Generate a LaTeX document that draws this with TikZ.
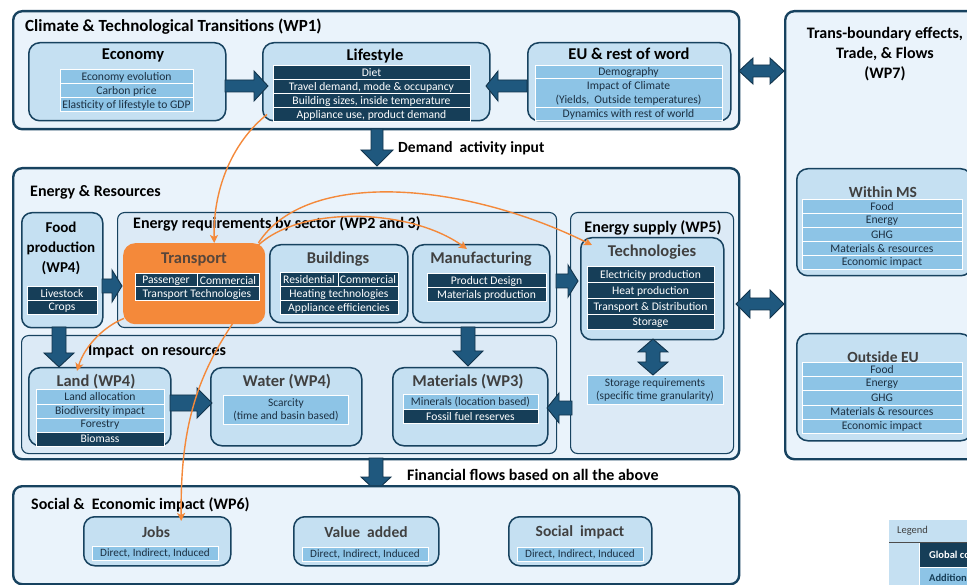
\documentclass[tikz,border=0pt]{standalone}
\usepackage{fontspec}
\setmainfont{Carlito}
\usetikzlibrary{arrows.meta}
\definecolor{navy}{RGB}{23,66,95}
\definecolor{darkitem}{RGB}{22,62,88}
\definecolor{ltitem}{RGB}{141,196,230}
\definecolor{subbg}{RGB}{197,224,242}
\definecolor{contbg}{RGB}{220,234,246}
\definecolor{panelbg}{RGB}{234,243,251}
\definecolor{orng}{RGB}{244,137,58}
\definecolor{arrfill}{RGB}{31,88,126}
\definecolor{arrline}{RGB}{18,52,76}
\definecolor{titlegray}{RGB}{64,64,64}
\definecolor{itemtext}{RGB}{28,48,66}
\definecolor{trtitle}{RGB}{88,70,58}
\newcommand\PTfont{\fontsize{16}{19}\selectfont\bfseries}
\newcommand\BTfont{\fontsize{16.5}{19}\selectfont\bfseries}
\newcommand\FTfont{\fontsize{15}{20}\selectfont\bfseries}
\newcommand\ITfont{\fontsize{11.6}{13.5}\selectfont}
\newcommand\SITfont{\fontsize{11.2}{12.5}\selectfont}
% block arrows
\newcommand\BArrowR[6]{\filldraw[barrowst] (#1,#3-#4) -- (#2-#6,#3-#4) -- (#2-#6,#3-#5) -- (#2,#3) -- (#2-#6,#3+#5) -- (#2-#6,#3+#4) -- (#1,#3+#4) -- cycle;}
\newcommand\BArrowL[6]{\filldraw[barrowst] (#1,#3-#4) -- (#2+#6,#3-#4) -- (#2+#6,#3-#5) -- (#2,#3) -- (#2+#6,#3+#5) -- (#2+#6,#3+#4) -- (#1,#3+#4) -- cycle;}
\newcommand\BArrowD[6]{\filldraw[barrowst] (#1-#4,#2) -- (#1-#4,#3-#6) -- (#1-#5,#3-#6) -- (#1,#3) -- (#1+#5,#3-#6) -- (#1+#4,#3-#6) -- (#1+#4,#2) -- cycle;}
\newcommand\DArrowH[6]{\filldraw[barrowst] (#1,#3) -- (#1+#6,#3-#5) -- (#1+#6,#3-#4) -- (#2-#6,#3-#4) -- (#2-#6,#3-#5) -- (#2,#3) -- (#2-#6,#3+#5) -- (#2-#6,#3+#4) -- (#1+#6,#3+#4) -- (#1+#6,#3+#5) -- cycle;}
\newcommand\DArrowV[6]{\filldraw[barrowst] (#1,#2) -- (#1+#5,#2+#6) -- (#1+#4,#2+#6) -- (#1+#4,#3-#6) -- (#1+#5,#3-#6) -- (#1,#3) -- (#1-#5,#3-#6) -- (#1-#4,#3-#6) -- (#1-#4,#2+#6) -- (#1-#5,#2+#6) -- cycle;}
\begin{document}
\begin{tikzpicture}[x=1pt,y=-1pt,
  panel/.style={draw=navy, line width=2.4pt, rounded corners=9pt, fill=panelbg, anchor=north west, inner sep=0pt},
  cont/.style={draw=navy, line width=1.1pt, rounded corners=7pt, fill=contbg, anchor=north west, inner sep=0pt},
  sub/.style={draw=navy, line width=1.5pt, rounded corners=11pt, fill=subbg, anchor=north west, inner sep=0pt},
  cell/.style 2 args={minimum width=#1, minimum height=#2},
  itembase/.style={draw=white, line width=1pt, inner sep=0pt, font=\ITfont, align=center},
  dk/.style={itembase, fill=darkitem, text=white},
  lt/.style={itembase, fill=ltitem, text=itemtext},
  ptitle/.style={font=\PTfont, text=black, anchor=west, inner sep=0pt},
  btitle/.style={font=\BTfont, text=black, inner sep=0pt},
  gtitle/.style={font=\BTfont, text=titlegray, inner sep=0pt},
  barrowst/.style={fill=arrfill, draw=arrline, line width=0.9pt, line join=miter},
  oarrow/.style={draw=orng, line width=1.4pt, -{Stealth[length=8pt,width=8pt,inset=2pt]}}
]
\useasboundingbox (0,0) rectangle (967,585);

% ===== WP1 panel =====
\node[panel, minimum width=726, minimum height=118] (wp1) at (12,10) {};
\node[ptitle, font=\fontsize{17}{20}\selectfont\bfseries] (wp1T) at (25,27) {Climate \& Technological Transitions (WP1)};

\node[sub, minimum width=197, minimum height=78] (econ) at (28,42) {};
\node[btitle] (econT) at (133,55) {Economy};
\node[lt, cell={133}{14}] (e1) at (126.5,77) {Economy evolution};
\node[lt, cell={133}{14}] (e2) at (126.5,91) {Carbon price};
\node[lt, cell={133}{14}] (e3) at (126.5,105) {Elasticity of lifestyle to GDP};

\node[sub, minimum width=227, minimum height=78] (life) at (262,42) {};
\node[btitle] (lifeT) at (375,56) {Lifestyle};
\node[dk, cell={197}{14}] (l1) at (371.5,73) {Diet};
\node[dk, cell={197}{14}] (l2) at (371.5,87) {Travel demand, mode \& occupancy};
\node[dk, cell={197}{14}] (l3) at (371.5,101) {Building sizes, inside temperature};
\node[dk, cell={197}{14}] (l4) at (371.5,115) {Appliance use, product demand};

\node[sub, minimum width=203, minimum height=78] (eu) at (527,42) {};
\node[btitle] (euT) at (629,54) {EU \& rest of word};
\node[lt, cell={187}{13}] (u1) at (628.5,72.5) {Demography};
\node[lt, cell={187}{29}, font=\fontsize{11.6}{14}\selectfont] (u2) at (628.5,93.5) {Impact of Climate\\(Yields,\ \ Outside temperatures)};
\node[lt, cell={187}{13}] (u3) at (628.5,114.5) {Dynamics with rest of world};

\BArrowR{225}{268}{86}{6}{15}{14}
\BArrowL{527}{486}{86}{6}{15}{12}

% ===== WP7 panel =====
\node[panel, minimum width=230, minimum height=448] (wp7) at (784,10) {};
\node[font=\PTfont, align=center, inner sep=0pt] (wp7T) at (885,54) {Trans-boundary effects,\\[1pt]Trade, \& Flows\\[1pt](WP7)};

\node[sub, minimum width=175, minimum height=107] (within) at (796,168) {};
\node[gtitle, font=\fontsize{15.5}{18}\selectfont\bfseries] (withinT) at (883,192) {Within MS};
\node[lt, cell={160}{14}] (w1) at (882,206.5) {Food};
\node[lt, cell={160}{14}] (w2) at (882,220.5) {Energy};
\node[lt, cell={160}{14}] (w3) at (882,234.5) {GHG};
\node[lt, cell={160}{14}] (w4) at (882,248.5) {Materials \& resources};
\node[lt, cell={160}{14}] (w5) at (882,262.5) {Economic impact};

\node[sub, minimum width=175, minimum height=107] (outside) at (796,333) {};
\node[gtitle, font=\fontsize{15.5}{18}\selectfont\bfseries] (outsideT) at (883,357) {Outside EU};
\node[lt, cell={160}{14}] (o1) at (882,370) {Food};
\node[lt, cell={160}{14}] (o2) at (882,384) {Energy};
\node[lt, cell={160}{14}] (o3) at (882,398) {GHG};
\node[lt, cell={160}{14}] (o4) at (882,412) {Materials \& resources};
\node[lt, cell={160}{14}] (o5) at (882,426) {Economic impact};

\DArrowH{739}{784}{71}{6}{13}{14}

% ===== Demand arrow =====
\BArrowD{377}{129}{166}{6}{16}{16}
\node[ptitle, font=\fontsize{15.5}{18}\selectfont\bfseries] (demT) at (398,148) {Demand\ \ activity input};

% ===== Energy & Resources panel =====
\node[panel, minimum width=726, minimum height=291] (er) at (12,167) {};
\node[ptitle] (erT) at (30,192) {Energy \& Resources};

\node[sub, minimum width=81, minimum height=115, rounded corners=10pt] (food) at (21,212) {};
\node[font=\FTfont, align=center, inner sep=0pt] (foodT) at (61,248) {Food\\production\\(WP4)};
\node[dk, cell={70}{14}] (f1) at (62,294) {Livestock};
\node[dk, cell={70}{14}] (f2) at (62,308) {Crops};

\node[cont, minimum width=439, minimum height=115] (ereq) at (117,212) {};
\node[ptitle] (ereqT) at (133,224) {Energy requirements by sector (WP2 and 3)};

\node[anchor=north west, fill=orng, rounded corners=12pt, minimum width=142, minimum height=81, inner sep=0pt] (transport) at (123,243) {};
\node[btitle, text=trtitle] (transportT) at (194,259) {Transport};
\node[dk, cell={62}{13}] (t1) at (166,280.5) {Passenger};
\node[dk, cell={62}{13}] (t2) at (228,280.5) {Commercial};
\node[dk, cell={124}{14}] (t3) at (197,294) {Transport Technologies};

\node[sub, minimum width=138, minimum height=78] (build) at (269,244) {};
\node[gtitle] (buildT) at (338,259) {Buildings};
\node[dk, cell={58}{14}] (b1) at (309,280) {Residential};
\node[dk, cell={60}{14}] (b2) at (368,280) {Commercial};
\node[dk, cell={118}{14}] (b3) at (339,294) {Heating technologies};
\node[dk, cell={118}{14}] (b4) at (339,308) {Appliance efficiencies};

\node[sub, minimum width=137, minimum height=78] (manuf) at (412,244) {};
\node[gtitle] (manufT) at (481,259) {Manufacturing};
\node[dk, cell={119}{14}] (m1) at (486.5,281) {Product Design};
\node[dk, cell={119}{14}] (m2) at (486.5,295) {Materials production};

\BArrowR{102}{122}{286}{7}{16}{10}

\node[cont, minimum width=163, minimum height=241] (esup) at (570,212) {};
\node[font=\PTfont, inner sep=0pt] (esupT) at (653,228) {Energy supply (WP5)};
\node[sub, minimum width=143, minimum height=102] (tech) at (580,237) {};
\node[gtitle] (techT) at (652,252) {Technologies};
\node[dk, cell={127}{16}] (k1) at (650.5,275) {Electricity production};
\node[dk, cell={127}{16}] (k2) at (650.5,291) {Heat production};
\node[dk, cell={127}{16}] (k3) at (650.5,307) {Transport \& Distribution};
\node[dk, cell={127}{15}] (k4) at (650.5,322.5) {Storage};
\node[lt, cell={136}{28}, font=\fontsize{11.4}{13.5}\selectfont] (storreq) at (655,390) {Storage requirements\\(specific time granularity)};
\DArrowV{653}{339}{375}{7}{15}{13}

\BArrowR{556}{578}{281}{7}{16}{10}

\node[cont, minimum width=535, minimum height=118] (impact) at (21,335) {};
\node[ptitle] (impactT) at (88,352) {Impact\ \ on resources};

\node[sub, minimum width=142, minimum height=78] (land) at (28,367) {};
\node[gtitle] (landT) at (96,382) {Land (WP4)};
\node[lt, cell={128}{14}] (d1) at (100,397) {Land allocation};
\node[lt, cell={128}{14}] (d2) at (100,411) {Biodiversity impact};
\node[lt, cell={128}{14}] (d3) at (100,425) {Forestry};
\node[dk, cell={128}{14}] (d4) at (100,439) {Biomass};

\node[sub, minimum width=151, minimum height=78] (water) at (210,367) {};
\node[gtitle] (waterT) at (287,382) {Water (WP4)};
\node[lt, cell={125}{28}, font=\fontsize{11.4}{13.5}\selectfont] (wa1) at (286,410) {Scarcity\\(time and basin based)};

\node[sub, minimum width=155, minimum height=78] (mat) at (392,367) {};
\node[gtitle] (matT) at (468,382) {Materials (WP3)};
\node[lt, cell={135}{14}] (ma1) at (470.5,402) {Minerals (location based)};
\node[dk, cell={135}{14}] (ma2) at (470.5,416.5) {Fossil fuel reserves};

\BArrowD{59}{327}{367}{7}{15}{14}
\BArrowD{468}{327}{366}{7}{15}{15}
\BArrowR{170}{212}{403}{8}{15}{15}
\BArrowL{572}{547}{408}{7}{15}{12}
\DArrowH{736}{784}{304}{6}{14}{14}

% ===== Financial flows =====
\BArrowD{376}{458}{491}{7}{15}{14}
\node[ptitle] (finT) at (407,475) {Financial flows based on all the above};

% ===== WP6 panel =====
\node[panel, minimum width=726, minimum height=98] (wp6) at (12,485) {};
\node[ptitle] (wp6T) at (31,505) {Social \&\ \ Economic impact (WP6)};

\node[sub, minimum width=147, minimum height=49] (jobs) at (83,516) {};
\node[gtitle, font=\fontsize{15.5}{18}\selectfont\bfseries] (jobsT) at (156,532) {Jobs};
\node[lt, cell={126}{14}, font=\SITfont] (j1) at (155,553.5) {Direct, Indirect, Induced};

\node[sub, minimum width=145, minimum height=49] (va) at (293,516) {};
\node[gtitle, font=\fontsize{15.5}{18}\selectfont\bfseries] (vaT) at (366,532) {Value\ \ added};
\node[lt, cell={126}{14}, font=\SITfont] (v1) at (365,554) {Direct, Indirect, Induced};

\node[sub, minimum width=143, minimum height=49] (soc) at (508,516) {};
\node[gtitle, font=\fontsize{15.5}{18}\selectfont\bfseries] (socT) at (580,532) {Social\ \ impact};
\node[lt, cell={126}{14}, font=\SITfont] (s1) at (580,554) {Direct, Indirect, Induced};

% ===== Legend =====
\node[anchor=north west, fill=subbg, minimum width=90, minimum height=70, inner sep=0pt] (legend) at (889,520) {};
\draw[gray!60!black, line width=1pt] (889,542) -- (975,542);
\node[anchor=north west, fill=darkitem, minimum width=60, minimum height=24, inner sep=0pt] (lgd1) at (919,543) {};
\node[anchor=north west, fill=ltitem, minimum width=60, minimum height=24, inner sep=0pt] (lgd2) at (919,567) {};
\draw[white, line width=1pt] (919,543) -- (919,590) (919,567) -- (975,567);
\node[anchor=west, inner sep=0pt, font=\fontsize{10.5}{12}\selectfont, text=titlegray] (lgT) at (897,531) {Legend};
\node[anchor=west, inner sep=0pt, font=\fontsize{10.5}{12}\selectfont\bfseries, text=white] (lg1T) at (929,555) {Global core};
\node[anchor=west, inner sep=0pt, font=\fontsize{10.5}{12}\selectfont\bfseries, text=darkitem] (lg2T) at (929,578) {Additional};

% ===== Orange connectors =====
\draw[oarrow] ([shift={(5,-7)}]life.south west) .. controls (235,140) and (213,185) .. ([xshift=20pt]transport.north);
\draw[oarrow] ([xshift=-7pt]transport.north east) .. controls (305,170) and (460,180) .. ([shift={(12,8)}]tech.north west);
\draw[oarrow] ([shift={(-8,3)}]transport.north east) .. controls (300,205) and (410,208) .. ([shift={(55,5)}]manuf.north west);
\draw[oarrow] ([shift={(1,-6)}]transport.south west) .. controls (105,326) and (85,345) .. ([shift={(49,4)}]land.north west);
\draw[oarrow] ([shift={(46,-12)}]transport.south) .. controls (200,370) and (180,420) .. ([shift={(24,5)}]jobs.north);
\end{tikzpicture}
\end{document}
